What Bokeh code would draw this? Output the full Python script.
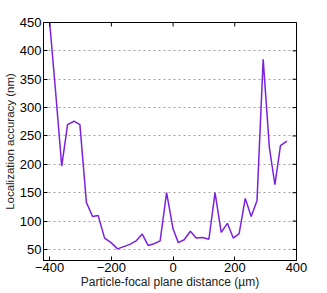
import math
from bokeh.plotting import figure
from bokeh.models import FixedTicker, Range1d
from bokeh.embed import file_html
from bokeh.resources import INLINE

distance_um = [-400, -380, -361, -342, -321, -302, -281, -261, -243, -222, -201, -180,
               -160, -140, -120, -100, -81, -62, -42, -21, 0, 17, 36, 56, 75, 95, 116,
               136, 156, 176, 195, 214, 234, 253, 272, 292, 312, 330, 348, 369]
accuracy_nm = [450, 323, 197, 270, 276, 270, 133, 108, 110, 70, 62, 51,
               55, 59, 65, 77, 57, 60, 65, 150, 86, 62, 67, 82, 70, 71, 68,
               150, 80, 96, 70, 78, 140, 108, 136, 385, 230, 164, 233, 241]
x_ticks = [-400, -200, 0, 200, 400]
y_ticks = [50, 100, 150, 200, 250, 300, 350, 400, 450]
x_lim = (-420, 400)
y_lim = (30.5, 450)

FONT = "Liberation Sans"

p = figure(width=310, height=292, output_backend="svg", toolbar_location=None,
           x_range=Range1d(*x_lim), y_range=Range1d(*y_lim),
           min_border_left=42, min_border_right=14, min_border_top=22, min_border_bottom=32)

p.line(distance_um, accuracy_nm, line_color="#7b22e0", line_width=1.5)

# mirrored inward ticks on top and right borders (MATLAB box style)
p.scatter(x_ticks, [y_lim[1]] * len(x_ticks), marker="dash", size=8, angle=math.pi / 2,
          line_color="black", line_width=1)
p.scatter([x_lim[1]] * len(y_ticks), y_ticks, marker="dash", size=8, angle=0,
          line_color="black", line_width=1)

p.xgrid.grid_line_color = None
p.ygrid.grid_line_color = "#a0a0a0"
p.ygrid.grid_line_dash = "2 3"
p.ygrid.ticker = FixedTicker(ticks=y_ticks)
p.outline_line_color = "black"
p.outline_line_width = 1
p.background_fill_color = "white"
p.border_fill_color = "white"

for ax, ticks in ((p.xaxis[0], x_ticks), (p.yaxis[0], y_ticks)):
    ax.ticker = FixedTicker(ticks=ticks)
    ax.minor_tick_line_color = None
    ax.major_tick_in = 4
    ax.major_tick_out = 0
    ax.major_tick_line_color = "black"
    ax.axis_line_color = "black"
    ax.major_label_text_font = FONT
    ax.major_label_text_font_size = "13px"
    ax.major_label_text_color = "black"
    ax.axis_label_text_font = FONT
    ax.axis_label_text_font_style = "normal"
    ax.axis_label_text_color = "#222222"

p.xaxis[0].axis_label = "Particle-focal plane distance (\u00b5m)"
p.yaxis[0].axis_label = "Localization accuracy (nm)"
p.xaxis[0].axis_label_text_font_size = "12px"
p.yaxis[0].axis_label_text_font_size = "11.5px"
p.xaxis[0].major_label_standoff = 2
p.xaxis[0].axis_label_standoff = 0
p.yaxis[0].major_label_standoff = 2
p.yaxis[0].axis_label_standoff = 1

open("out.html", "w").write(file_html(p, INLINE))
